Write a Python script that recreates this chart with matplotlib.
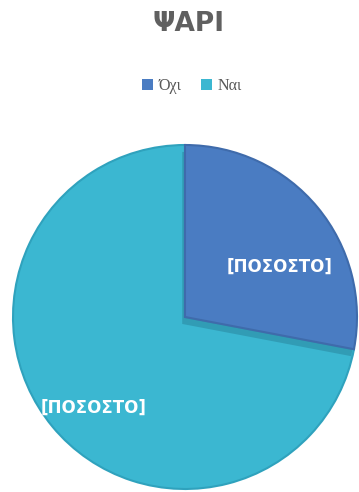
import matplotlib
matplotlib.use('Agg')

import matplotlib.pyplot as plt
import matplotlib.patheffects as pe
from matplotlib.patches import Patch

# Data
categories = ['Όχι', 'Ναι']
shares = [28, 72]
colors = ['#4a7cc2', '#3bb7d1']
edge_colors = ['#3f6bab', '#2fa2bd']
slice_labels = ['[ΠΟΣΟΣΤΟ]', '[ΠΟΣΟΣΤΟ]']
title = 'ΨΑΡΙ'

fig = plt.figure(figsize=(3.59, 4.92), dpi=100)
fig.patch.set_facecolor('white')

# Square axes holding the pie (344 px across, centre near x=185, y=317 px)
ax = fig.add_axes([13 / 359, 3 / 492, 344 / 359, 344 / 492])
wedges, _ = ax.pie(shares, colors=colors, startangle=90, counterclock=False,
                   radius=1.0, wedgeprops=dict(linewidth=1.5))
for w, ec in zip(wedges, edge_colors):
    w.set_edgecolor(ec)

# Raised look for the smaller slice: soft shadow under its lower edge
wedges[0].set_zorder(3)
wedges[0].set_path_effects([
    pe.SimplePatchShadow(offset=(-2, -5), shadow_rgbFace='#2b8aa3', alpha=0.6),
    pe.Normal()])

ax.set_xlim(-1, 1)
ax.set_ylim(-1, 1)
ax.set_aspect('equal')
ax.axis('off')

# Slice labels
label_pos = [(0.55, 0.29), (-0.53, -0.53)]
for (x, y), txt in zip(label_pos, slice_labels):
    ax.text(x, y, txt, ha='center', va='center', color='white',
            fontsize=12, fontweight='bold', family='DejaVu Sans', zorder=5)

# Title and legend
fig.text(0.525, 1 - 24 / 492, title, ha='center', va='center',
         fontsize=19, fontweight='bold', color='#606060', family='DejaVu Sans')

handles = [Patch(facecolor=c, edgecolor='none') for c in colors]
fig.legend(handles, categories, loc='center', bbox_to_anchor=(0.535, 1 - 86 / 492),
           ncol=2, frameon=False, handlelength=0.7, handleheight=0.7,
           handletextpad=0.35, columnspacing=1.2,
           prop={'family': 'Liberation Serif', 'size': 11.5}, labelcolor='#595959')

fig.savefig('out.png', dpi=100, facecolor='white')
